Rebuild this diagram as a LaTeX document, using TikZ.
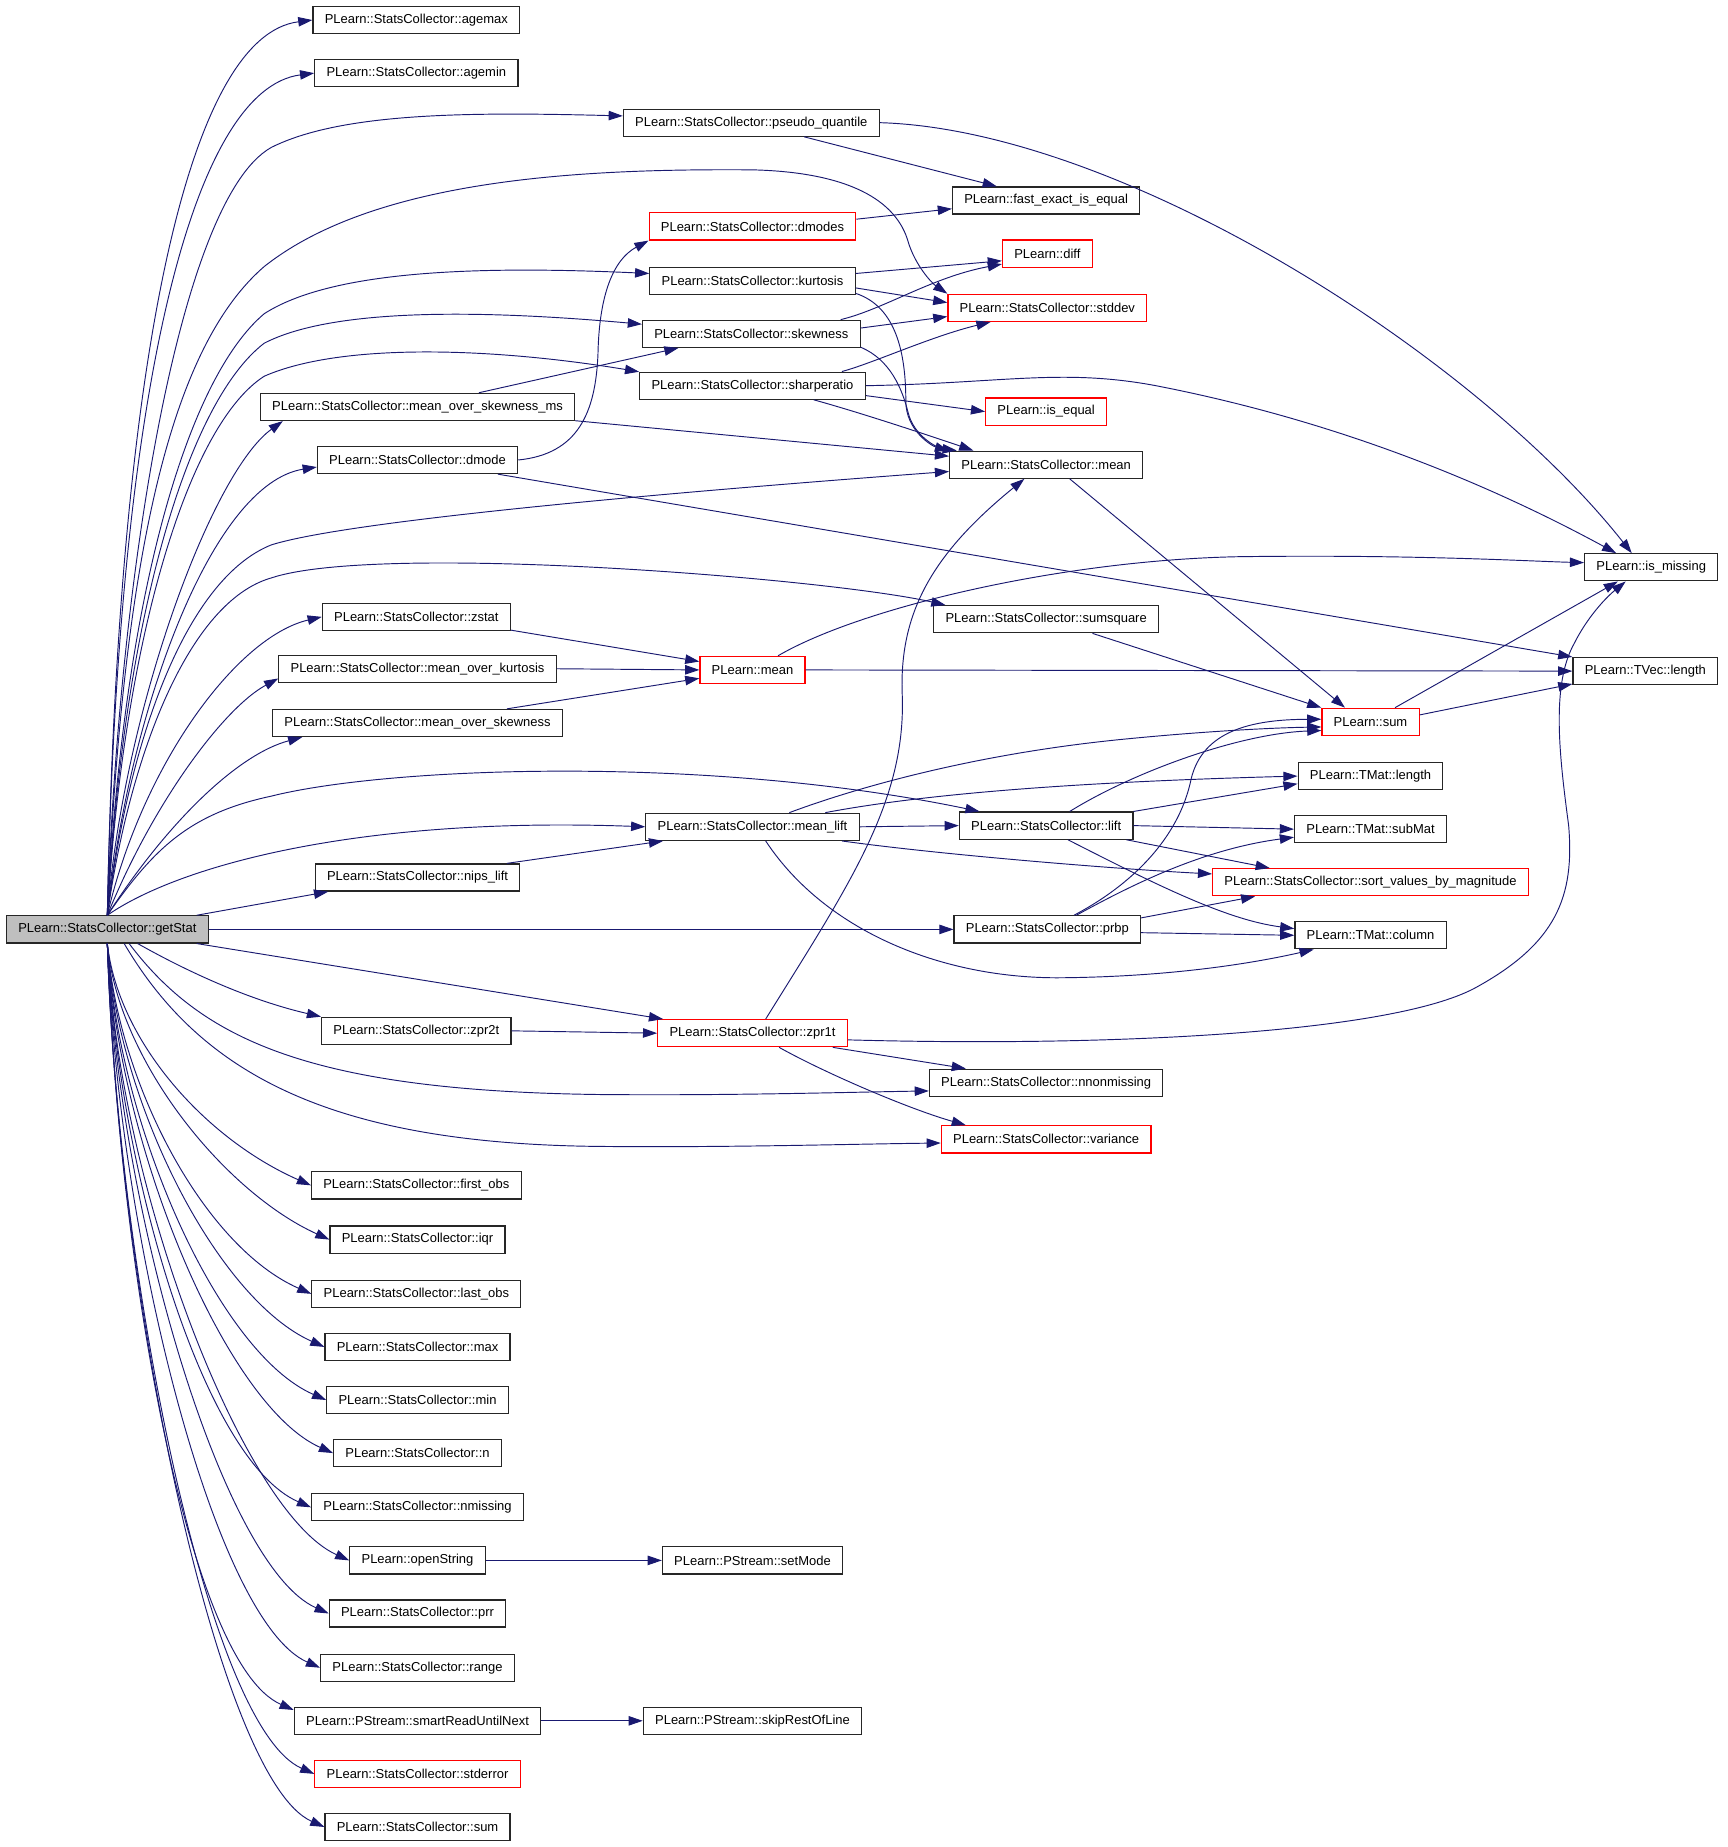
\documentclass[tikz,border=0pt]{standalone}
\usepackage{fontspec}
\setmainfont{Liberation Sans}
\usepackage{xcolor}
\usepackage{tikz}
\usetikzlibrary{arrows.meta}
\definecolor{callblue}{HTML}{191970}
\definecolor{boxgrey}{HTML}{BFBFBF}

\begin{document}
\begin{tikzpicture}[x=1pt,y=-1pt,
  fn/.style={draw=black!85,line width=1pt,inner xsep=10pt,inner ysep=0pt,
    minimum height=23pt,font=\fontsize{11}{12}\selectfont},
  fnred/.style={fn,draw=red},
  fnroot/.style={fn,fill=boxgrey},
  call/.style={draw=callblue,line width=0.8pt,-{Triangle[length=12pt,width=8pt]}}]
\useasboundingbox (0,0) rectangle (1465,1566);

% Caller
\node[fnroot] (getstat) at (91,788) {PLearn::StatsCollector::getStat};

% First column
\node[fn] (agemax) at (353,17) {PLearn::StatsCollector::agemax};
\node[fn] (agemin) at (353,62) {PLearn::StatsCollector::agemin};
\node[fn] (mosms) at (354,345) {PLearn::StatsCollector::mean\_over\_skewness\_ms};
\node[fn] (dmode) at (354,390) {PLearn::StatsCollector::dmode};
\node[fn] (zstat) at (353,523) {PLearn::StatsCollector::zstat};
\node[fn] (mok) at (354,567) {PLearn::StatsCollector::mean\_over\_kurtosis};
\node[fn] (mos) at (354,613) {PLearn::StatsCollector::mean\_over\_skewness};
\node[fn] (nipslift) at (354,744) {PLearn::StatsCollector::nips\_lift};
\node[fn] (zpr2t) at (353,874) {PLearn::StatsCollector::zpr2t};
\node[fn] (firstobs) at (353,1005) {PLearn::StatsCollector::first\_obs};
\node[fn] (iqr) at (354,1051) {PLearn::StatsCollector::iqr};
\node[fn] (lastobs) at (353,1097) {PLearn::StatsCollector::last\_obs};
\node[fn] (max) at (354,1142) {PLearn::StatsCollector::max};
\node[fn] (min) at (354,1187) {PLearn::StatsCollector::min};
\node[fn] (n) at (354,1232) {PLearn::StatsCollector::n};
\node[fn] (nmissing) at (354,1278) {PLearn::StatsCollector::nmissing};
\node[fn] (openstring) at (354,1323) {PLearn::openString};
\node[fn] (prr) at (354,1368) {PLearn::StatsCollector::prr};
\node[fn] (range) at (354,1414) {PLearn::StatsCollector::range};
\node[fn] (smartread) at (354,1459) {PLearn::PStream::smartReadUntilNext};
\node[fnred] (stderror) at (354,1504) {PLearn::StatsCollector::stderror};
\node[fn] (scsum) at (354,1549) {PLearn::StatsCollector::sum};

% Second column
\node[fn] (pq) at (637,104) {PLearn::StatsCollector::pseudo\_quantile};
\node[fnred] (dmodes) at (638,192) {PLearn::StatsCollector::dmodes};
\node[fn] (kurtosis) at (638,238) {PLearn::StatsCollector::kurtosis};
\node[fn] (skewness) at (637,283) {PLearn::StatsCollector::skewness};
\node[fn] (sharpe) at (638,327) {PLearn::StatsCollector::sharperatio};
\node[fnred] (pmean) at (638,568) {PLearn::mean};
\node[fn] (meanlift) at (638,701) {PLearn::StatsCollector::mean\_lift};
\node[fnred] (zpr1t) at (638,876) {PLearn::StatsCollector::zpr1t};
\node[fn] (setmode) at (638,1323) {PLearn::PStream::setMode};
\node[fn] (skiprest) at (638,1459) {PLearn::PStream::skipRestOfLine};

% Third column
\node[fn] (fast) at (887,170) {PLearn::fast\_exact\_is\_equal};
\node[fnred] (diff) at (888,215) {PLearn::diff};
\node[fnred] (stddev) at (888,261) {PLearn::StatsCollector::stddev};
\node[fnred] (iseq) at (887,349) {PLearn::is\_equal};
\node[fn] (scmean) at (887,394) {PLearn::StatsCollector::mean};
\node[fn] (sumsq) at (887,525) {PLearn::StatsCollector::sumsquare};
\node[fn] (lift) at (887,700) {PLearn::StatsCollector::lift};
\node[fn] (prbp) at (888,788) {PLearn::StatsCollector::prbp};
\node[fn] (nnon) at (887,918) {PLearn::StatsCollector::nnonmissing};
\node[fnred] (variance) at (887,966) {PLearn::StatsCollector::variance};

% Fourth and fifth columns
\node[fnred] (plsum) at (1162,612) {PLearn::sum};
\node[fn] (tmatlen) at (1162,658) {PLearn::TMat::length};
\node[fn] (submat) at (1162,703) {PLearn::TMat::subMat};
\node[fnred] (sortv) at (1162,748) {PLearn::StatsCollector::sort\_values\_by\_magnitude};
\node[fn] (tmatcol) at (1162,793) {PLearn::TMat::column};
\node[fn] (ism) at (1400,481) {PLearn::is\_missing};
\node[fn] (tvec) at (1395,569) {PLearn::TVec::length};

% Calls from getStat, upwards
\draw[call] (getstat.north) .. controls (100,300) and (160,30) .. (agemax.west);
\draw[call] (getstat.north) .. controls (100,320) and (165,75) .. (agemin.west);
\draw[call] (getstat.north) .. controls (100,500) and (150,170) .. (230,125) .. controls (290,95) and (400,95) .. (pq.177);
\draw[call] (getstat.north) .. controls (105,450) and (150,290) .. (224,226) .. controls (320,150) and (500,143) .. (638,144) .. controls (720,146) and (760,170) .. (770,205) .. controls (776,225) and (790,240) .. (stddev.north west);
\draw[call] (getstat.north) .. controls (105,500) and (160,320) .. (224,266) .. controls (280,230) and (400,225) .. (kurtosis.176);
\draw[call] (getstat.north) .. controls (105,520) and (160,340) .. (224,291) .. controls (280,262) and (400,262) .. (skewness.175);
\draw[call] (getstat.north) .. controls (105,540) and (160,360) .. (224,319) .. controls (290,290) and (420,295) .. (sharpe.173);
\draw[call] (getstat.north) .. controls (105,600) and (180,400) .. (mosms.186);
\draw[call] (getstat.north) .. controls (110,600) and (180,410) .. (dmode.184);
\draw[call] (getstat.north) .. controls (110,620) and (160,490) .. (230,462) .. controls (300,440) and (600,415) .. (scmean.184);
\draw[call] (getstat.north) .. controls (110,640) and (160,510) .. (230,490) .. controls (320,460) and (700,490) .. (sumsq.172);
\draw[call] (getstat.north) .. controls (120,650) and (200,540) .. (zstat.west);
\draw[call] (getstat.north) .. controls (130,680) and (190,600) .. (mok.184);
\draw[call] (getstat.north) .. controls (140,700) and (200,640) .. (mos.187);
\draw[call] (getstat.north) .. controls (130,720) and (160,690) .. (230,675) .. controls (330,650) and (600,640) .. (lift.168);
\draw[call] (getstat.north) .. controls (150,735) and (300,692) .. (meanlift.west);
\draw[call] (getstat.9) -- (nipslift.189);
\draw[call] (getstat.east) -- (prbp.west);

% Calls from getStat, downwards
\draw[call] (getstat.-9) -- (zpr1t.171);
\draw[call] (getstat.-25) .. controls (170,830) and (220,850) .. (zpr2t.north west);
\draw[call] (getstat.-33) .. controls (170,880) and (260,925) .. (509,928) .. controls (620,929) and (720,926) .. (nnon.184);
\draw[call] (getstat.-40) .. controls (170,910) and (280,970) .. (509,972) .. controls (620,973) and (720,970) .. (variance.182);
\draw[call] (getstat.south) .. controls (100,882) and (173,965) .. (firstobs.west);
\draw[call] (getstat.south) .. controls (100,900) and (191,1011) .. (iqr.west);
\draw[call] (getstat.south) .. controls (100,919) and (173,1057) .. (lastobs.west);
\draw[call] (getstat.south) .. controls (100,937) and (185,1102) .. (max.west);
\draw[call] (getstat.south) .. controls (100,955) and (185,1147) .. (min.west);
\draw[call] (getstat.south) .. controls (100,973) and (192,1192) .. (n.west);
\draw[call] (getstat.south) .. controls (100,991) and (172,1238) .. (nmissing.west);
\draw[call] (getstat.south) .. controls (100,1009) and (207,1283) .. (openstring.west);
\draw[call] (getstat.south) .. controls (100,1027) and (189,1328) .. (prr.west);
\draw[call] (getstat.south) .. controls (100,1046) and (181,1374) .. (range.west);
\draw[call] (getstat.south) .. controls (100,1064) and (158,1410) .. (smartread.175);
\draw[call] (getstat.south) .. controls (100,1082) and (176,1464) .. (stderror.west);
\draw[call] (getstat.south) .. controls (100,1100) and (185,1509) .. (scsum.west);

% Upper part
\draw[call] (pq.-15) -- (fast.164);
\draw[call] (pq.east) .. controls (950,110) and (1250,300) .. (ism.144);
\draw[call] (dmodes.4) -- (fast.185);
\draw[call] (dmode.east) .. controls (490,385) and (505,350) .. (507,300) .. controls (508,250) and (520,220) .. (dmodes.south west);
\draw[call] (kurtosis.4) -- (diff.189);
\draw[call] (kurtosis.-4) -- (stddev.177);
\draw[call] (kurtosis.-7) .. controls (760,260) and (768,300) .. (768,340) .. controls (768,365) and (790,378) .. (scmean.172);
\draw[call] (skewness.9) .. controls (750,262) and (790,235) .. (diff.193);
\draw[call] (skewness.3) -- (stddev.185);
\draw[call] (skewness.-7) .. controls (755,305) and (765,330) .. (770,350) .. controls (775,370) and (795,380) .. (scmean.171);
\draw[call] (sharpe.9) .. controls (740,308) and (790,285) .. (stddev.194);
\draw[call] (sharpe.-5) -- (iseq.west);
\draw[call] (sharpe.-13) .. controls (730,350) and (790,370) .. (scmean.169);
\draw[call] (sharpe.east) .. controls (850,325) and (900,312) .. (980,327) .. controls (1150,360) and (1280,420) .. (ism.158);
\draw[call] (mosms.13) -- (skewness.191);
\draw[call] (mosms.-5) -- (scmean.175);
\draw[call] (dmode.-10) -- (tvec.north west);
\draw[call] (scmean.-31) -- (plsum.151);

% Middle part
\draw[call] (zstat.-8) -- (pmean.171);
\draw[call] (mok.east) -- (pmean.west);
\draw[call] (mos.9) -- (pmean.189);
\draw[call] (pmean.29) .. controls (730,515) and (900,475) .. (1050,472) .. controls (1200,470) and (1300,476) .. (ism.176);
\draw[call] (pmean.east) -- (tvec.west);
\draw[call] (sumsq.-17) -- (plsum.north west);
\draw[call] (plsum.30) -- (ism.203);
\draw[call] (plsum.8) -- (tvec.190);
\draw[call] (meanlift.21) .. controls (720,670) and (820,640) .. (950,627) .. controls (1020,620) and (1080,617) .. (plsum.186);
\draw[call] (meanlift.11) .. controls (800,670) and (950,662) .. (tmatlen.west);
\draw[call] (meanlift.east) -- (lift.west);
\draw[call] (meanlift.-9) .. controls (800,725) and (950,737) .. (sortv.177);
\draw[call] (meanlift.-47) .. controls (700,790) and (800,830) .. (900,829) .. controls (1000,828) and (1070,815) .. (tmatcol.194);
\draw[call] (lift.31) .. controls (960,655) and (1050,622) .. (plsum.190);
\draw[call] (lift.north east) -- (tmatlen.186);
\draw[call] (lift.east) -- (submat.west);
\draw[call] (lift.-10) -- (sortv.172);
\draw[call] (lift.-33) .. controls (980,750) and (1040,780) .. (tmatcol.175);
\draw[call] (prbp.28) .. controls (960,750) and (1000,710) .. (1010,660) .. controls (1020,620) and (1060,610) .. (plsum.177);
\draw[call] (prbp.26) .. controls (960,750) and (1020,720) .. (submat.186);
\draw[call] (prbp.7) -- (sortv.187);
\draw[call] (prbp.-2) -- (tmatcol.west);
\draw[call] (nipslift.9) -- (meanlift.189);

% Lower part
\draw[call] (zpr2t.east) -- (zpr1t.west);
\draw[call] (zpr1t.47) .. controls (720,750) and (768,680) .. (765,590) .. controls (762,520) and (790,470) .. (scmean.213);
\draw[call] (zpr1t.-4) .. controls (950,888) and (1180,875) .. (1250,838) .. controls (1320,800) and (1335,760) .. (1330,700) .. controls (1322,640) and (1315,580) .. (1335,545) .. controls (1345,525) and (1360,508) .. (ism.209);
\draw[call] (zpr1t.-10) -- (nnon.170);
\draw[call] (zpr1t.-28) .. controls (700,910) and (770,940) .. (variance.170);
\draw[call] (openstring.east) -- (setmode.west);
\draw[call] (smartread.east) -- (skiprest.west);
\end{tikzpicture}
\end{document}
